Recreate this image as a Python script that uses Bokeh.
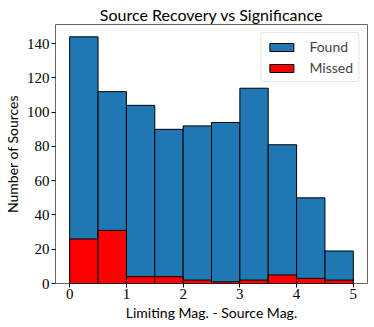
from bokeh.plotting import figure
from bokeh.models import Range1d, FixedTicker, Legend, LegendItem, ColumnDataSource
from bokeh.embed import file_html
from bokeh.resources import INLINE

bin_edges = [0.0, 0.5, 1.0, 1.5, 2.0, 2.5, 3.0, 3.5, 4.0, 4.5, 5.0]
found = [144, 112, 104, 90, 92, 94, 114, 81, 50, 19]
missed = [26, 31, 4, 4, 2, 1, 2, 5, 3, 2]
x_ticks = [0, 1, 2, 3, 4, 5]
y_ticks = [0, 20, 40, 60, 80, 100, 120, 140]

src = ColumnDataSource(dict(left=bin_edges[:-1], right=bin_edges[1:],
                            found=found, missed=missed, zero=[0]*len(found)))

p = figure(output_backend="svg", toolbar_location=None,
           frame_width=312, frame_height=259,
           min_border_left=52, min_border_right=4, min_border_top=24, min_border_bottom=40,
           x_range=Range1d(-0.25, 5.25), y_range=Range1d(0, 151.2),
           title="Source Recovery vs Significance")

r1 = p.quad(left="left", right="right", bottom="zero", top="found", source=src,
            fill_color="#1f77b4", line_color="black", line_width=1)
r2 = p.quad(left="left", right="right", bottom="zero", top="missed", source=src,
            fill_color="#ff0000", line_color="black", line_width=1)

sans = "Lato"
serif = "Liberation Serif"

p.title.text_font = sans
p.title.text_font_size = "16px"
p.title.text_font_style = "normal"
p.title.align = "center"
p.title.text_color = "black"
p.title.standoff = 2

p.xgrid.visible = False
p.ygrid.visible = False
p.outline_line_color = "#666666"
p.outline_line_width = 1

for ax in (p.xaxis[0], p.yaxis[0]):
    ax.major_label_text_font = serif
    ax.major_label_text_font_size = "15px"
    ax.major_label_text_color = "black"
    ax.axis_label_text_font = sans
    ax.axis_label_text_font_size = "14px"
    ax.axis_label_text_font_style = "normal"
    ax.axis_label_text_color = "black"
    ax.minor_tick_line_color = None
    ax.major_tick_out = 4
    ax.major_tick_in = 0
    ax.major_tick_line_color = "black"
    ax.axis_line_color = None
    ax.major_label_standoff = 2

p.xaxis.ticker = FixedTicker(ticks=x_ticks)
p.yaxis.ticker = FixedTicker(ticks=y_ticks)
p.xaxis.axis_label = "Limiting Mag. - Source Mag."
p.yaxis.axis_label = "Number of Sources"
p.xaxis.major_label_standoff = 1
p.xaxis.axis_label_standoff = 2
p.yaxis.axis_label_standoff = 3

legend = Legend(items=[LegendItem(label="Found", renderers=[r1]),
                       LegendItem(label="Missed", renderers=[r2])],
                location="top_right")
legend.label_text_font = sans
legend.label_text_font_size = "14px"
legend.label_height = 16
legend.glyph_width = 30
legend.glyph_height = 10
legend.spacing = 4
legend.border_line_color = "#cccccc"
legend.border_radius = 3
legend.margin = 8
legend.padding = 5
legend.label_standoff = 13
p.add_layout(legend)

open("out.html", "w").write(file_html(p, INLINE))
